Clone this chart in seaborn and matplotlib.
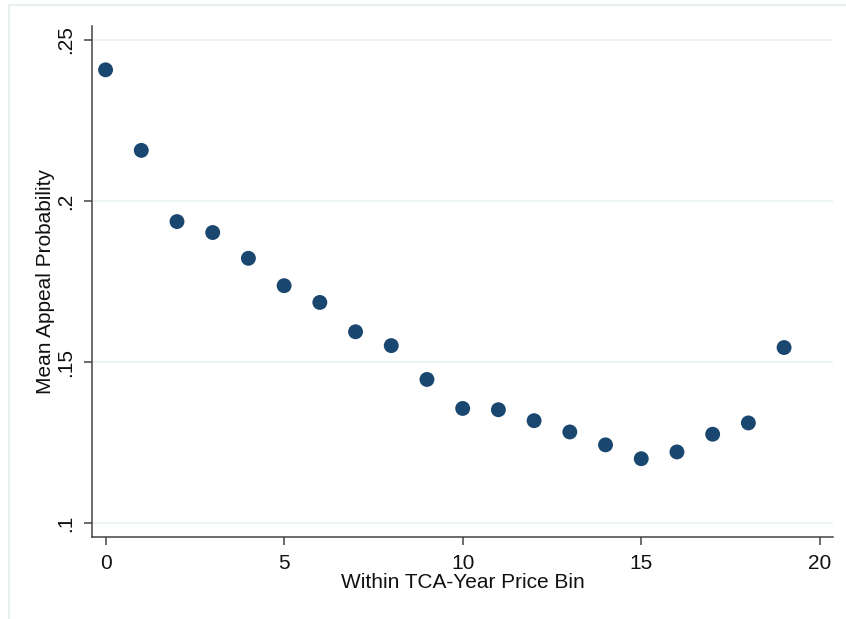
import matplotlib
matplotlib.use("Agg")
import matplotlib.pyplot as plt
from matplotlib.patches import Rectangle
import seaborn as sns
import pandas as pd

# Mean appeal probability by within TCA-year price bin
price_bin = list(range(20))
appeal_prob = [0.2407, 0.2157, 0.1936, 0.1902, 0.1822, 0.1737, 0.1685, 0.1594,
               0.1551, 0.1446, 0.1356, 0.1352, 0.1318, 0.1283, 0.1243, 0.1200,
               0.1221, 0.1276, 0.1311, 0.1545]
x_ticks = [0, 5, 10, 15, 20]
y_ticks = [0.10, 0.15, 0.20, 0.25]
y_tick_labels = [".1", ".15", ".2", ".25"]

df = pd.DataFrame({"bin": price_bin, "prob": appeal_prob})

sns.set_theme(style="white")
plt.rcParams["font.family"] = ["Liberation Sans", "DejaVu Sans"]

fig = plt.figure(figsize=(8.46, 6.19), dpi=100)
fig.patch.set_facecolor("white")
# light graph-region frame
fig.patches.append(Rectangle((9 / 846, -0.1), 1.2, 1.1 - 5 / 619, transform=fig.transFigure,
                             fill=False, edgecolor="#e4ecef", linewidth=1.2))

ax = fig.add_axes([92 / 846, 1 - 537 / 619, (833 - 92) / 846, (537 - 26) / 619])
for y in y_ticks:
    ax.axhline(y, color="#eaf2f3", linewidth=1.2, zorder=0)

sns.scatterplot(data=df, x="bin", y="prob", ax=ax, color="#1a476f", s=115,
                edgecolor="none", zorder=3, legend=False)

ax.set_xlim(-0.38, 20.37)
ax.set_ylim(0.0957, 0.2543)
ax.set_xticks(x_ticks)
ax.set_yticks(y_ticks)
ax.set_yticklabels(y_tick_labels, rotation=90, va="center")
ax.tick_params(axis="both", direction="out", length=6, width=1.1, color="#444444",
               labelsize=15, labelcolor="#111111", pad=6, left=True, bottom=True)
ax.set_xlabel("Within TCA-Year Price Bin", fontsize=15, color="#111111", labelpad=0)
ax.set_ylabel("Mean Appeal Probability", fontsize=15, color="#111111", labelpad=1)

for side in ("top", "right"):
    ax.spines[side].set_visible(False)
for side in ("left", "bottom"):
    ax.spines[side].set_color("#444444")
    ax.spines[side].set_linewidth(1.1)

fig.savefig("out.png", dpi=100)
